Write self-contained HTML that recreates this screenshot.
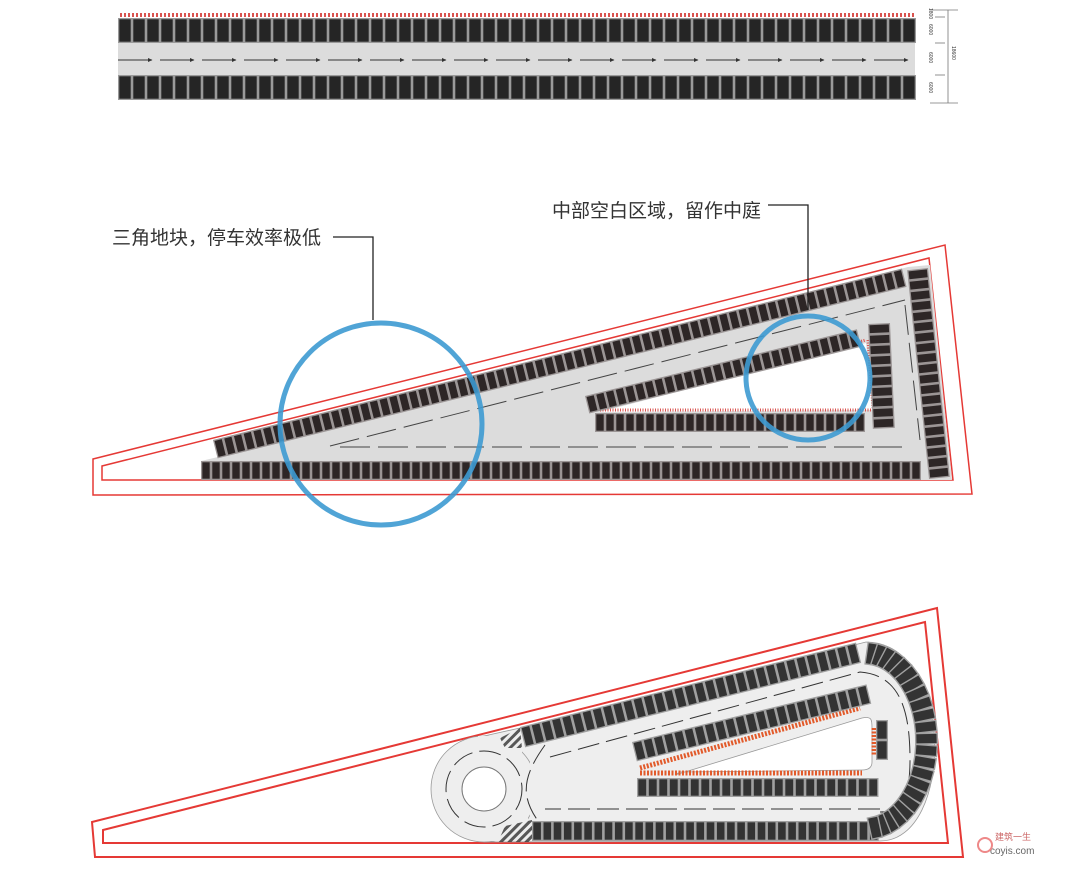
<!DOCTYPE html>
<html><head><meta charset="utf-8">
<style>
html,body{margin:0;padding:0;background:#fff;}
svg{display:block;}
text{font-family:"Liberation Sans","Noto Sans CJK SC",sans-serif;}
</style></head>
<body>
<svg id="s" width="1080" height="870" viewBox="0 0 1080 870" xmlns="http://www.w3.org/2000/svg">
<defs>
<pattern id="redh" width="4" height="5" patternUnits="userSpaceOnUse"><rect x="0" y="0" width="2" height="5" fill="#d9534f"/></pattern>
<pattern id="zeb" width="6" height="6" patternUnits="userSpaceOnUse" patternTransform="rotate(45)"><rect width="3" height="6" fill="#333"/></pattern>
<marker id="ah" markerWidth="5" markerHeight="5" refX="4" refY="2.5" orient="auto"><path d="M0,0.5 L4.5,2.5 L0,4.5Z" fill="#333"/></marker>
</defs>

<!-- ===== TOP DIAGRAM ===== -->
<rect x="118" y="13" width="797" height="4" fill="url(#redh)"/>
<rect x="118" y="43" width="797" height="32" fill="#dcdcdc"/>
<g id="topArrows" stroke="#333" stroke-width="1"></g>
<g stroke="#777" stroke-width="0.8" fill="none">
<line x1="948" y1="10" x2="948" y2="103"/>
<line x1="930" y1="103" x2="958" y2="103"/>
<line x1="930" y1="10" x2="958" y2="10"/>
<line x1="935" y1="17" x2="945" y2="17"/>
<line x1="935" y1="43" x2="945" y2="43"/>
<line x1="935" y1="75" x2="945" y2="75"/>
</g>
<g font-size="5" fill="#333">
<text transform="translate(929,8) rotate(90)">1800</text>
<text transform="translate(929,24) rotate(90)">6000</text>
<text transform="translate(929,52) rotate(90)">6000</text>
<text transform="translate(929,82) rotate(90)">6000</text>
<text transform="translate(952,46) rotate(90)">18600</text>
</g>

<!-- ===== MIDDLE DIAGRAM ===== -->
<polygon points="93,459 945,245 972,494 93,495" fill="none" stroke="#e53935" stroke-width="1.5"/>
<polygon points="102,466 929,258 953,480 102,480" fill="none" stroke="#e53935" stroke-width="1.5"/>
<polygon points="213,440 908,267 930,265 952,480 201,480 201,461 218,457" fill="#dcdcdc"/>
<polygon points="600,412 866,343 873,410" fill="#fff"/>
<g stroke="#444" stroke-width="1" stroke-dasharray="30,8" fill="none">
<line x1="330" y1="446" x2="905" y2="300"/>
<line x1="340" y1="447" x2="905" y2="447"/>
<line x1="905" y1="305" x2="920" y2="440"/>
</g>
<line x1="590" y1="411" x2="866" y2="340" stroke="#d9534f" stroke-width="3" stroke-dasharray="1,1.5"/>
<line x1="600" y1="410" x2="873" y2="410" stroke="#d9534f" stroke-width="3" stroke-dasharray="1,1.5"/>
<line x1="868" y1="340" x2="873" y2="408" stroke="#d9534f" stroke-width="3" stroke-dasharray="1,1.5"/>
<g id="midStalls"></g>

<circle cx="381" cy="424" r="101" fill="none" stroke="#3d9ad1" stroke-width="5" opacity="0.9"/>
<circle cx="808" cy="378" r="62" fill="none" stroke="#3d9ad1" stroke-width="5" opacity="0.9"/>

<text x="112" y="244" font-size="19" fill="#333">三角地块，停车效率极低</text>
<polyline points="333,237 373,237 373,320" fill="none" stroke="#222" stroke-width="1.3"/>
<text x="552" y="217" font-size="19" fill="#333">中部空白区域，留作中庭</text>
<polyline points="768,205 808,205 808,310" fill="none" stroke="#222" stroke-width="1.3"/>

<!-- ===== BOTTOM DIAGRAM ===== -->
<polygon points="92,822 937,608 963,857 95,857" fill="none" stroke="#e53935" stroke-width="2"/>
<polygon points="103,830 925,622 948,843 103,843" fill="none" stroke="#e53935" stroke-width="2"/>
<path d="M484,736 L520,728 L866,642 C955,642 955,841 880,841 L484,842 Z" fill="#eeeeee" stroke="#999" stroke-width="0.8"/>
<circle cx="484" cy="789" r="53" fill="#eeeeee" stroke="#999" stroke-width="0.8"/>
<rect x="478" y="736" width="44" height="50" fill="#eeeeee"/>
<rect x="478" y="795" width="50" height="46" fill="#eeeeee"/>
<path d="M530,752 C560,760 560,830 530,824 L530,752Z" fill="#eeeeee"/>
<circle cx="484" cy="789" r="22" fill="#fff" stroke="#777" stroke-width="1"/>
<polygon points="500,738 520,728 522,748 505,748" fill="url(#zeb)" opacity="0.8"/>
<polygon points="505,826 532,820 532,842 498,842" fill="url(#zeb)" opacity="0.8"/>
<path d="M675,775 L862,718 C872,716 872,720 872,728 L872,762 C872,768 868,770 862,770 L680,772 Z" fill="#fff" stroke="#999" stroke-width="0.8"/>
<line x1="640" y1="768" x2="860" y2="708" stroke="#e25a2a" stroke-width="5" stroke-dasharray="2,1.5"/>
<line x1="640" y1="773" x2="862" y2="773" stroke="#e25a2a" stroke-width="5" stroke-dasharray="2,1.5"/>
<line x1="874" y1="728" x2="874" y2="756" stroke="#e25a2a" stroke-width="5" stroke-dasharray="2,1.5"/>
<g stroke="#333" stroke-width="1" fill="none" stroke-dasharray="22,7">
<circle cx="484" cy="789" r="38"/>
<path d="M545,745 C520,780 520,800 545,830"/>
<line x1="880" y1="809" x2="545" y2="809"/>
<path d="M550,757 L860,672 C900,675 910,710 910,760 C910,800 900,812 880,812"/>
</g>
<g id="botStalls"></g>
<text x="995" y="840" font-size="9" fill="#c66">建筑一生</text>
<text x="990" y="854" font-size="10" fill="#666">coyis.com</text>
<circle cx="985" cy="845" r="7" fill="none" stroke="#e88" stroke-width="2"/>
</svg>

<script>
var NS="http://www.w3.org/2000/svg";
function el(p,tag,a){var e=document.createElementNS(NS,tag);for(var k in a)e.setAttribute(k,a[k]);p.appendChild(e);return e;}
function row(p,x1,y1,x2,y2,depth,pitch,dark,border){
  var dx=x2-x1,dy=y2-y1,L=Math.sqrt(dx*dx+dy*dy),ang=Math.atan2(dy,dx)*180/Math.PI;
  var g=el(p,"g",{transform:"translate("+x1+","+y1+") rotate("+ang+")"});
  var n=Math.floor(L/pitch);
  el(g,"rect",{x:0,y:0,width:n*pitch,height:depth,fill:border});
  for(var i=0;i<n;i++){el(g,"rect",{x:i*pitch+1.3,y:1.3,width:pitch-2.6,height:depth-2.6,fill:dark});}
}
var s=document.getElementById("s");
var tg=document.createElementNS(NS,"g");s.insertBefore(tg,document.getElementById("topArrows"));
row(tg,118,18,916,18,25,14,"#252525","#9a9a9a");
row(tg,118,75,916,75,25,14,"#252525","#9a9a9a");
var ta=document.getElementById("topArrows");
for(var x=118;x<900;x+=42){el(ta,"line",{x1:x,y1:60,x2:x+34,y2:60,"marker-end":"url(#ah)"});}
var m=document.getElementById("midStalls");
var D="#2d2626",B="#9b9595";
row(m,213,440,908,267,19,10,D,B);
row(m,201,461,925,461,19,10,D,B);
row(m,928,268,950,478,21,10.5,D,B);
row(m,585,396,862,328,18,10,D,B);
row(m,595,413,873,413,19,10,D,B);
row(m,890,323,895,432,22,10.5,D,B);
var b=document.getElementById("botStalls");
var D2="#333",B2="#a0a0a0";
row(b,520,727,862,641,21,10.5,D2,B2);
row(b,532,821,885,821,20,10.2,D2,B2);
row(b,632,742,868,684,20,10.5,D2,B2);
row(b,637,778,880,778,19,10.5,D2,B2);
row(b,888,720,888,760,12,20,D2,B2);
var cx=866,cy=741,rx=72,ry=99;
for(var t=-84;t<=84;t+=7.5){
  var th=t*Math.PI/180,px=cx+rx*Math.cos(th),py=cy+ry*Math.sin(th);
  var nx=Math.cos(th)/rx,ny=Math.sin(th)/ry,phi=Math.atan2(ny,nx)*180/Math.PI;
  var g=el(b,"g",{transform:"translate("+px+","+py+") rotate("+phi+")"});
  el(g,"rect",{x:-23,y:-6,width:23,height:12,fill:B2});
  el(g,"rect",{x:-21.6,y:-4.6,width:20.2,height:9.2,fill:D2});
}
</script>
</body></html>
